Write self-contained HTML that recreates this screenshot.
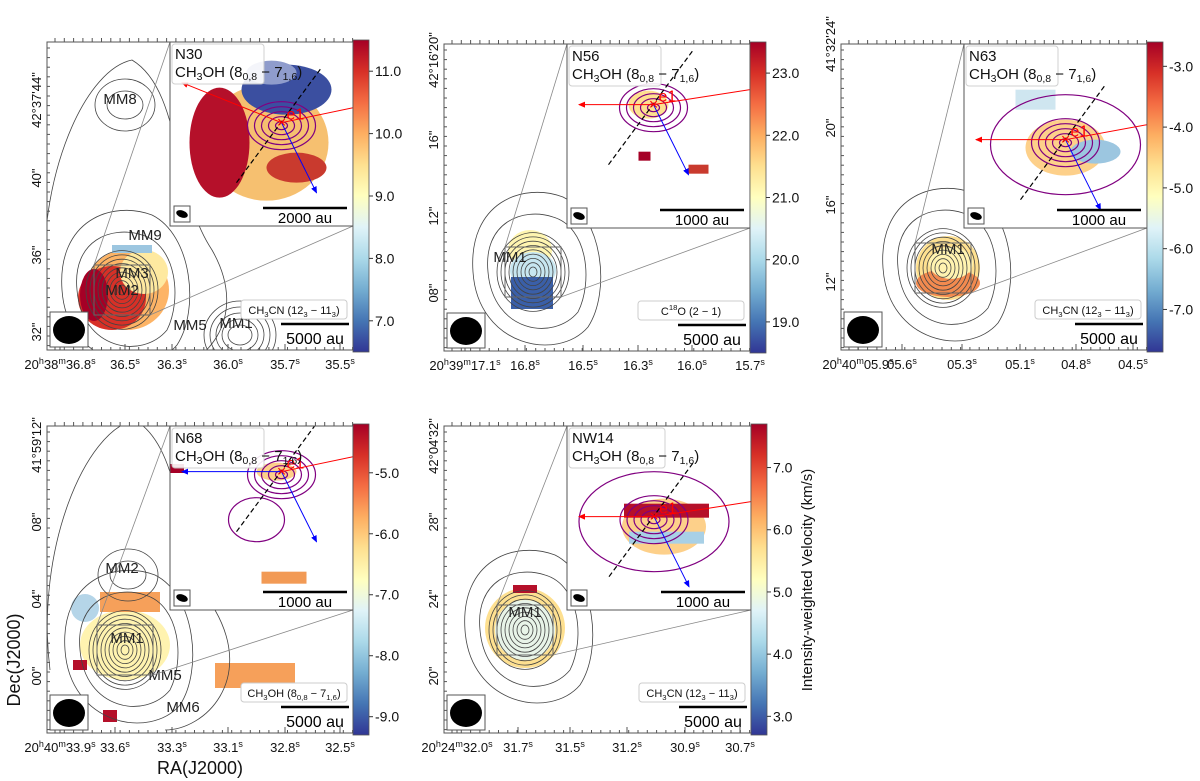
<!DOCTYPE html>
<html><head><meta charset="utf-8"><style>
body{margin:0;background:#fff;}
svg{display:block;font-family:"Liberation Sans","DejaVu Sans",sans-serif;}
</style></head><body>
<svg id="fig" width="1200" height="781" viewBox="0 0 1200 781" xmlns="http://www.w3.org/2000/svg">
<defs>
<linearGradient id="cmap" x1="0" y1="1" x2="0" y2="0">
<stop offset="0" stop-color="#313695"/><stop offset="0.1" stop-color="#4575b4"/><stop offset="0.2" stop-color="#74add1"/><stop offset="0.3" stop-color="#abd9e9"/><stop offset="0.4" stop-color="#e0f3f8"/><stop offset="0.5" stop-color="#ffffbf"/><stop offset="0.6" stop-color="#fee090"/><stop offset="0.7" stop-color="#fdae61"/><stop offset="0.8" stop-color="#f46d43"/><stop offset="0.9" stop-color="#d73027"/><stop offset="1" stop-color="#a50026"/>
</linearGradient>
<marker id="ar" markerWidth="8" markerHeight="8" refX="6" refY="3" orient="auto"><path d="M0,0 L7,3 L0,6z" fill="red"/></marker>
<marker id="ab" markerWidth="8" markerHeight="8" refX="6" refY="3" orient="auto"><path d="M0,0 L7,3 L0,6z" fill="blue"/></marker>
</defs>
</svg>
<script>
// ---- data ----
const panelNames = ["N30","N56","N63","N68","NW14"];
const cbMin = [6.5, 18.5, -7.7, -9.3, 2.7];
const cbMax = [11.5, 23.5, -2.6, -4.2, 7.7];
const cbTicks = [[7,8,9,10,11],[19,20,21,22,23],[-7,-6,-5,-4,-3],[-9,-8,-7,-6,-5],[3,4,5,6,7]];
const raLabels = [
 ["36.8","36.5","36.3","36.0","35.7","35.5"],
 ["17.1","16.8","16.5","16.3","16.0","15.7"],
 ["05.9","05.6","05.3","05.1","04.8","04.5"],
 ["33.9","33.6","33.3","33.1","32.8","32.5"],
 ["32.0","31.7","31.5","31.2","30.9","30.7"]];
const raPrefix = ["20h38m","20h39m","20h40m","20h40m","20h24m"];
const decLabels = [
 ["42°37'44\"","40\"","36\"","32\""],
 ["42°16'20\"","16\"","12\"","08\""],
 ["41°32'24\"","20\"","16\"","12\""],
 ["41°59'12\"","08\"","04\"","00\""],
 ["42°04'32\"","28\"","24\"","20\""]];
const lineLabels = ["CH3CN (123 − 113)","C18O (2 − 1)","CH3CN (123 − 113)","CH3OH (80,8 − 71,6)","CH3CN (123 − 113)"];
const insetScale = ["2000 au","1000 au","1000 au","1000 au","1000 au"];
const mmLabels = [[["MM8",120,104],["MM9",145,240],["MM3",132,278],["MM2",122,295],["MM5",190,330],["MM1",236,328]],
 [["MM1",510,262]],[["MM1",948,254]],
 [["MM2",122,573],["MM1",127,643],["MM5",165,680],["MM6",183,712]],[["MM1",525,617]]];
// ---- layout ----
const L = [
 {x:47,y:42,w:306,h:308, ra:[60,125,172,228,285,340], dec:[100,178,255,332], src:[122,290], blobC:["#fdae61","#d73027"]},
 {x:444,y:44,w:306,h:307, ra:[465,525,583,638,692,750], dec:[60,140,216,293], src:[533,272], blobC:["#ffffbf","#4575b4"]},
 {x:841,y:44,w:306,h:306, ra:[858,902,962,1020,1076,1133], dec:[44,128,205,282], src:[943,268], blobC:["#fee090","#fdae61"]},
 {x:47,y:426,w:306,h:307, ra:[60,115,172,228,285,340], dec:[445,522,599,676], src:[125,650], blobC:["#fffdb0","#fee090"]},
 {x:444,y:426,w:307,h:307, ra:[457,518,570,627,685,740], dec:[446,522,599,676], src:[525,630], blobC:["#e0f3f8","#fee090"]}
];
const NS="http://www.w3.org/2000/svg";
const svg=document.getElementById('fig');
const defs=svg.querySelector('defs');
function el(tag,attrs,parent,text){const e=document.createElementNS(NS,tag);for(const k in attrs)e.setAttribute(k,attrs[k]);if(text!==undefined)e.textContent=text;(parent||svg).appendChild(e);return e;}

L.forEach((p,i)=>{
  const cp=el('clipPath',{id:'clip'+i},defs);
  el('rect',{x:p.x,y:p.y,width:p.w,height:p.h},cp);
  const g=el('g',{});
  
  
  const inner=el('g',{'clip-path':'url(#clip'+i+')'},g);
  const cx=p.src[0], cy=p.src[1];
  // color blob
  const bg=el('g',{},inner);
  
  
  if(i==0){
    el('ellipse',{cx:cx+5,cy:cy,rx:42,ry:40,fill:'#fdb466'},bg);
    el('ellipse',{cx:cx-10,cy:cy+8,rx:34,ry:32,fill:'#d73027'},bg);
    el('ellipse',{cx:cx-28,cy:cy+5,rx:14,ry:26,fill:'#a50026'},bg);
    el('ellipse',{cx:cx+22,cy:cy-18,rx:24,ry:22,fill:'#fee9a0'},bg);
    el('rect',{x:cx-10,y:cy-45,width:40,height:8,fill:'#9cc6e0'},bg);
  } else if(i==1){
    el('ellipse',{cx:cx-3,cy:cy-22,rx:22,ry:20,fill:'#fff5b0'},bg);
    el('ellipse',{cx:cx,cy:cy-2,rx:23,ry:18,fill:'#c7e6f0'},bg);
    el('rect',{x:cx-22,y:cy+5,width:42,height:32,fill:'#3a5fa8'},bg);
  } else if(i==2){
    el('ellipse',{cx:cx+5,cy:cy,rx:32,ry:32,fill:'#fee090'},bg);
    el('ellipse',{cx:cx+5,cy:cy+15,rx:32,ry:14,fill:'#f28a4f'},bg);
    el('ellipse',{cx:cx+8,cy:cy-5,rx:22,ry:16,fill:'#fff3b0'},bg);
  } else if(i==3){
    el('ellipse',{cx:cx,cy:cy-5,rx:45,ry:35,fill:'#fff3b0'},bg);
    el('rect',{x:cx-25,y:cy-58,width:60,height:20,fill:'#f6a05a'},bg);
    el('ellipse',{cx:cx-40,cy:cy-42,rx:14,ry:14,fill:'#b5d5e8'},bg);
    el('rect',{x:215,y:y=663,width:80,height:25,fill:'#f6a05a'},bg);
    el('rect',{x:73,y:660,width:14,height:10,fill:'#b5102a'},bg);
    el('rect',{x:103,y:710,width:14,height:12,fill:'#b5102a'},bg);
  } else {
    el('ellipse',{cx:cx,cy:cy-2,rx:40,ry:40,fill:'#fee090'},bg);
    el('ellipse',{cx:cx,cy:cy,rx:30,ry:30,fill:'#e8f4e8'},bg);
    el('rect',{x:cx-12,y:cy-45,width:24,height:8,fill:'#b5102a'},bg);
  }
  const cg=el('g',{fill:'none',stroke:'#444','stroke-width':0.8},inner);
  
  
  for(let k=0;k<9;k++){el('ellipse',{cx:cx,cy:cy,rx:4+k*4,ry:5+k*4.3},cg);}
  el('path',{d:`M${cx-45},${cy} C${cx-50},${cy-50} ${cx-10},${cy-65} ${cx+20},${cy-55} C${cx+55},${cy-45} ${cx+60},${cy+10} ${cx+45},${cy+40} C${cx+20},${cy+70} ${cx-40},${cy+60} ${cx-45},${cy}z`},cg);
  el('path',{d:`M${cx-60},${cy} C${cx-65},${cy-70} ${cx-10},${cy-90} ${cx+30},${cy-75} C${cx+70},${cy-55} ${cx+78},${cy+20} ${cx+55},${cy+55} C${cx+25},${cy+90} ${cx-55},${cy+75} ${cx-60},${cy}z`},cg);
  if(i==0||i==3){
    el('path',{d:`M${cx-75},${cy+20} C${cx-90},${cy-100} ${cx-40},${cy-220} ${cx+10},${cy-230} C${cx+60},${cy-200} ${cx+50},${cy-100} ${cx+90},${cy-40} C${cx+130},${cy+30} ${cx+80},${cy+80} ${cx+40},${cy+80}`},cg);
    el('ellipse',{cx:cx+3,cy:cy-(i==0?185:75),rx:18,ry:14},cg);
    el('ellipse',{cx:cx+3,cy:cy-(i==0?185:75),rx:30,ry:26},cg);
  }
  if(i==0){for(let k=0;k<5;k++)el('ellipse',{cx:240,cy:335,rx:12+k*6,ry:10+k*6},cg);}
  // MM labels
  mmLabels[i].forEach(m=>{const t=el('text',{x:m[1],y:m[2],'font-size':15,'text-anchor':'middle',fill:'#222'},g,m[0]);
    
    });
  // frame
  el('rect',{x:p.x,y:p.y,width:p.w,height:p.h,fill:'none',stroke:'#555','stroke-width':1},g);
  for(let t=p.x+8;t<p.x+p.w;t+=9.3){el('line',{x1:t,y1:p.y+p.h,x2:t,y2:p.y+p.h-3,stroke:'#555'},g);el('line',{x1:t,y1:p.y,x2:t,y2:p.y-4,stroke:'#555'},g);}
  for(let t=p.y+6;t<p.y+p.h;t+=9.6){el('line',{x1:p.x,y1:t,x2:p.x+3,y2:t,stroke:'#555'},g);}
  raLabels[i].forEach((s,k)=>{
    const lbl=el('text',{x:p.ra[k],y:p.y+p.h+19,'font-size':13,'text-anchor':'middle',fill:'#111'},g);
    
    
    if(k==0){const pr=raPrefix[i];lbl.innerHTML=pr.slice(0,2)+'<tspan dy="-5" font-size="9">h</tspan><tspan dy="5">'+pr.slice(3,5)+'</tspan><tspan dy="-5" font-size="9">m</tspan><tspan dy="5">'+s+'</tspan><tspan dy="-5" font-size="9">s</tspan>';}
    else lbl.innerHTML=s+'<tspan dy="-5" font-size="9">s</tspan>';
    el('line',{x1:p.ra[k],y1:p.y+p.h,x2:p.ra[k],y2:p.y+p.h-6,stroke:'#555'},g);
  });
  decLabels[i].forEach((s,k)=>{
    const yy=p.dec[k];
    const lbl=el('text',{x:p.x-6,y:yy,'font-size':13,'text-anchor':'middle',fill:'#111',transform:`rotate(-90 ${p.x-6} ${yy})`},g,s);
    
    
  });
  // beam
  el('rect',{x:p.x+3,y:p.y+p.h-38,width:38,height:35,fill:'#fff',stroke:'#555'},g);
  el('ellipse',{cx:p.x+22,cy:p.y+p.h-20,rx:16,ry:14,fill:'#000'},g);
  el('rect',{x:p.x+p.w-112,y:p.y+p.h-50,width:106,height:19,rx:3,fill:'#fff',stroke:'#ccc'},g);
  const tl=el('text',{x:p.x+p.w-59,y:p.y+p.h-36,'font-size':11,'text-anchor':'middle',fill:'#111'},g,lineLabels[i]);
  
  
  el('line',{x1:p.x+p.w-72,y1:p.y+p.h-26,x2:p.x+p.w-4,y2:p.y+p.h-26,stroke:'#000','stroke-width':2.5},g);
  const sb=el('text',{x:p.x+p.w-38,y:p.y+p.h-6,'font-size':16,'text-anchor':'middle',fill:'#000'},g,'5000 au');
  
  
  // inset
  const ix=p.x+123, iy=p.y, iw=p.x+p.w-ix, ih=184;
  el('line',{x1:ix,y1:iy,x2:cx-28,y2:cy-25,stroke:'#888','stroke-width':0.8},g);
  el('line',{x1:ix+iw,y1:iy+ih,x2:cx+28,y2:cy+25,stroke:'#888','stroke-width':0.8},g);
  el('rect',{x:cx-28,y:cy-25,width:56,height:50,fill:'none',stroke:'#666'},g);
  const icl=el('clipPath',{id:'iclip'+i},defs);
  el('rect',{x:ix,y:iy,width:iw,height:ih},icl);
  const ig=el('g',{'clip-path':'url(#iclip'+i+')'},g);
  
  
  el('rect',{x:ix,y:iy,width:iw,height:ih,fill:'#fff'},ig);
  let icx=ix+iw*0.5, icy=iy+ih*0.52;
  if(i==0){
    el('ellipse',{cx:icx+5,cy:icy+5,rx:62,ry:58,fill:'#f6c070'},ig);
    el('ellipse',{cx:icx-42,cy:icy+5,rx:30,ry:55,fill:'#b5102a'},ig);
    el('ellipse',{cx:icx+25,cy:icy-48,rx:45,ry:25,fill:'#3b4fa0'},ig);
    el('ellipse',{cx:icx+10,cy:icy-65,rx:25,ry:12,fill:'#8f9ccc'},ig);
    el('ellipse',{cx:icx+35,cy:icy+30,rx:30,ry:15,fill:'#c93a2e'},ig);
    icx+=20; icy+=-15;
  } else if(i==2){
    el('ellipse',{cx:icx+10,cy:icy+8,rx:40,ry:28,fill:'#fdd08a'},ig);
    el('ellipse',{cx:icx+40,cy:icy+12,rx:25,ry:12,fill:'#9cc6e0'},ig);
    el('rect',{x:icx-40,y:icy-50,width:40,height:20,fill:'#cfe6f0'},ig);
    icx+=10;
  } else if(i==4){
    el('ellipse',{cx:icx+5,cy:icy+5,rx:42,ry:28,fill:'#fdd08a'},ig);
    el('rect',{x:icx-35,y:icy-18,width:85,height:14,fill:'#b5102a'},ig);
    el('rect',{x:icx-30,y:icy+10,width:75,height:12,fill:'#a8d0e6'},ig);
    icx+=-5; icy+=-5;
  } else if(i==1){
    el('ellipse',{cx:icx-10,cy:icy-35,rx:20,ry:14,fill:'#fee090'},ig);
    el('rect',{x:icx+30,y:icy+25,width:20,height:9,fill:'#c93a2e'},ig);
    el('rect',{x:icx-20,y:icy+12,width:12,height:9,fill:'#a50026'},ig);
    icy-=35; icx-=5;
  } else {
    el('ellipse',{cx:icx+15,cy:icy-50,rx:20,ry:9,fill:'#fdd08a'},ig);
    el('rect',{x:icx+0,y:icy+50,width:45,height:12,fill:'#f29a55'},ig);
    el('rect',{x:ix,y:iy+38,width:14,height:9,fill:'#a50026'},ig);
    icy-=50; icx+=20;
  }
  const pg=el('g',{fill:'none',stroke:'#800080','stroke-width':1.2},ig);
  for(let k=0;k<5;k++){el('ellipse',{cx:icx,cy:icy+3,rx:6+k*7,ry:4+k*5},pg);}
  if(i==2||i==4){el('ellipse',{cx:icx,cy:icy+5,rx:75,ry:50},pg);}
  if(i==3){el('ellipse',{cx:icx-25,cy:icy+48,rx:28,ry:22},pg);}
  el('line',{x1:icx-45,y1:icy+60,x2:icx+40,y2:icy-55,stroke:'#000','stroke-dasharray':'5,3','stroke-width':1.2},ig);
  el('line',{x1:icx,y1:icy,x2:ix+12,y2:icy+(i==0?-40:0),stroke:(i==3?'blue':'red'),'marker-end':(i==3?'url(#ab)':'url(#ar)')},ig);
  el('line',{x1:icx,y1:icy,x2:icx+35,y2:icy+70,stroke:'blue','marker-end':'url(#ab)'},ig);
  el('line',{x1:icx,y1:icy,x2:ix+iw,y2:icy-15,stroke:'red'},ig);
  el('text',{x:icx,y:icy+5,'font-size':16,fill:'red','text-anchor':'middle'},ig,'×');
  el('text',{x:icx+5,y:icy-3,'font-size':16,fill:'red'},ig,'e1');
  el('rect',{x:ix+2,y:iy+2,width:i==4?96:92,height:40,rx:3,fill:'#fff',stroke:'#ccc',opacity:0.9},ig);
  const nt=el('text',{x:ix+5,y:iy+17,'font-size':15,fill:'#111'},ig,panelNames[i]);
  
  
  el('text',{x:ix+5,y:iy+35,'font-size':15,fill:'#111'},ig,'CH3OH (80,8 − 71,6)');
  el('rect',{x:ix+4,y:iy+ih-20,width:16,height:16,fill:'#fff',stroke:'#555'},ig);
  el('ellipse',{cx:ix+12,cy:iy+ih-12,rx:6,ry:3.5,fill:'#000',transform:`rotate(20 ${ix+12} ${iy+ih-12})`},ig);
  el('line',{x1:ix+iw-90,y1:iy+ih-18,x2:ix+iw-6,y2:iy+ih-18,stroke:'#000','stroke-width':2.5},ig);
  el('text',{x:ix+iw-48,y:iy+ih-3,'font-size':15,'text-anchor':'middle',fill:'#000'},ig,insetScale[i]);
  el('rect',{x:ix,y:iy,width:iw,height:ih,fill:'none',stroke:'#555'},g);
  // colorbar
  const bx=p.x+p.w, by=p.y-2, bw=16, bh=p.h+4;
  const cb=el('g',{},svg);
  
  
  el('rect',{x:bx,y:by,width:bw,height:bh,fill:'url(#cmap)',stroke:'#555','stroke-width':0.8},cb);
  const yScale=v=>by+bh-(v-cbMin[i])/(cbMax[i]-cbMin[i])*bh;
  cbTicks[i].forEach(v=>{
    const y=yScale(v);
    el('line',{x1:bx+bw,y1:y,x2:bx+bw+4,y2:y,stroke:'#333'},cb);
    const tt=el('text',{x:bx+bw+6,y:y+5,'font-size':14,fill:'#111'},cb,v.toFixed(1));
    
    
  });
});
// chemical subscripts via dy tspans
const SB=(s)=>'<tspan dy="3" font-size="70%">'+s+'</tspan><tspan dy="-3">';
const SP=(s)=>'<tspan dy="-5" font-size="70%">'+s+'</tspan><tspan dy="5">';
document.querySelectorAll('text').forEach(t=>{
  const s=t.textContent;
  if(s.indexOf('CH3')===0||s.indexOf('C18O')===0){
    let h=s.replace('CH3','CH'+SB('3'))
      .replace('C18O','C'+SP('18')+'O')
      .replace('(80,8','(8'+SB('0,8'))
      .replace('71,6)','7'+SB('1,6')+')')
      .replace('(123','(12'+SB('3'))
      .replace('113)','11'+SB('3')+')');
    const opens=(h.match(/<tspan dy="-?\d+">/g)||[]).length;
    t.innerHTML=h+'</tspan>'.repeat(opens);
  }
});
const dl=el('text',{x:20,y:660,'font-size':18,'text-anchor':'middle',fill:'#111',transform:'rotate(-90 20 660)'},svg,'Dec(J2000)');


const rl=el('text',{x:200,y:774,'font-size':18,'text-anchor':'middle',fill:'#111'},svg,'RA(J2000)');


const vl=el('text',{x:812,y:580,'font-size':15,'text-anchor':'middle',fill:'#111',transform:'rotate(-90 812 580)'},svg,'Intensity-weighted Velocity (km/s)');


</script>
</body></html>
